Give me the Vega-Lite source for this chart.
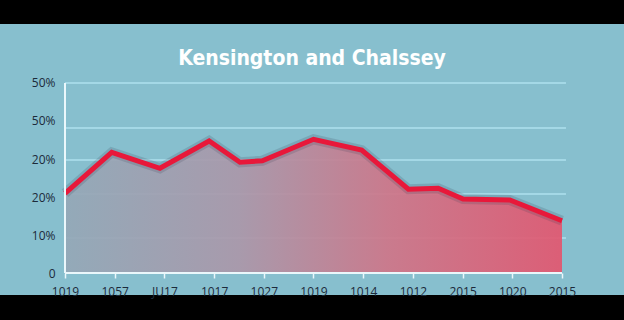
{
  "$schema": "https://vega.github.io/schema/vega-lite/v6.json",
  "width": 624,
  "height": 271,
  "autosize": {"type": "none"},
  "padding": {"top": 24, "bottom": 25, "left": 0, "right": 0},
  "background": "#000000",
  "config": {
    "view": {"fill": "#87bfce", "stroke": null},
    "axis": {"labelFont": "Open Sans", "labelFontSize": 12, "labelColor": "#1c2a3a", "title": null},
    "axisX": {
      "orient": "bottom", "offset": -22,
      "labelExpr": "['1019','1057','JU17','1017','1027','1019','1014','1012','2015','1020','2015'][datum.value]",
      "domain": false, "grid": false, "ticks": true, "tickColor": "#eaf7fb", "tickSize": 5, "tickWidth": 1.5,
      "labelPadding": 8
    },
    "axisY": {
      "orient": "left", "offset": -65,
      "labelExpr": "datum.value == 0 ? '0' : datum.value == 10 ? '10%' : datum.value <= 30 ? '20%' : '50%'",
      "domain": false, "grid": false, "ticks": false, "labelPadding": 10
    }
  },
  "title": {
    "text": "Kensington and Chalssey",
    "font": "DejaVu Sans Condensed",
    "fontSize": 21,
    "fontWeight": "bold",
    "color": "#ffffff",
    "anchor": "middle",
    "baseline": "alphabetic",
    "offset": -62
  },
  "datasets": {
    "series": [
      {"t": 0, "v": 20.97},
      {"t": 0.94, "v": 31.76},
      {"t": 1.91, "v": 27.55},
      {"t": 2.9, "v": 34.74},
      {"t": 3.52, "v": 29.13},
      {"t": 3.97, "v": 29.55},
      {"t": 5.0, "v": 35.18},
      {"t": 5.97, "v": 32.37},
      {"t": 6.91, "v": 22.03},
      {"t": 7.51, "v": 22.29},
      {"t": 8.01, "v": 19.47},
      {"t": 8.95, "v": 19.21},
      {"t": 10, "v": 13.76}
    ],
    "grid": [
      {"g": 50},
      {"g": 38.16},
      {"g": 29.74},
      {"g": 20.79},
      {"g": 9.21}
    ]
  },
  "layer": [
    {
      "data": {"name": "grid"},
      "mark": {"type": "rule", "color": "#aee0ee", "strokeWidth": 1.5},
      "encoding": {
        "y": {"field": "g", "type": "quantitative", "scale": {"domain": [-5.789, 65.526], "nice": false, "zero": false}, "axis": {"values": [0, 10, 20, 30, 40, 50]}},
        "x": {"datum": 0, "type": "quantitative", "scale": {"domain": [-1.3078, 11.2475], "nice": false, "zero": false}, "axis": {"values": [0, 1, 2, 3, 4, 5, 6, 7, 8, 9, 10]}},
        "x2": {"datum": 10.08}
      }
    },
    {
      "data": {"name": "series"},
      "mark": {
        "type": "area",
        "opacity": 0.92,
        "fill": {
          "gradient": "linear",
          "x1": 0, "x2": 1, "y1": 0, "y2": 0,
          "stops": [
            {"offset": 0, "color": "#94a8b7"},
            {"offset": 0.35, "color": "#ab97a9"},
            {"offset": 0.65, "color": "#cf7588"},
            {"offset": 1, "color": "#e3566f"}
          ]
        }
      },
      "encoding": {
        "x": {"field": "t", "type": "quantitative", "scale": {"domain": [-1.3078, 11.2475], "nice": false, "zero": false}, "axis": {"values": [0, 1, 2, 3, 4, 5, 6, 7, 8, 9, 10]}},
        "y": {"field": "v", "type": "quantitative", "scale": {"domain": [-5.789, 65.526], "nice": false, "zero": false}, "axis": {"values": [0, 10, 20, 30, 40, 50]}},
        "y2": {"datum": 0}
      }
    },
    {
      "data": {"name": "series"},
      "mark": {"type": "line", "color": "#3a3f55", "opacity": 0.18, "strokeWidth": 10},
      "encoding": {
        "x": {"field": "t", "type": "quantitative", "scale": {"domain": [-1.3078, 11.2475], "nice": false, "zero": false}, "axis": {"values": [0, 1, 2, 3, 4, 5, 6, 7, 8, 9, 10]}},
        "y": {"field": "v", "type": "quantitative", "scale": {"domain": [-5.789, 65.526], "nice": false, "zero": false}, "axis": {"values": [0, 10, 20, 30, 40, 50]}}
      }
    },
    {
      "data": {"name": "series"},
      "mark": {"type": "line", "color": "#e8183a", "strokeWidth": 5},
      "encoding": {
        "x": {"field": "t", "type": "quantitative", "scale": {"domain": [-1.3078, 11.2475], "nice": false, "zero": false}, "axis": {"values": [0, 1, 2, 3, 4, 5, 6, 7, 8, 9, 10]}},
        "y": {"field": "v", "type": "quantitative", "scale": {"domain": [-5.789, 65.526], "nice": false, "zero": false}, "axis": {"values": [0, 10, 20, 30, 40, 50]}}
      }
    },
    {
      "data": {"name": "series"},
      "mark": {"type": "rule", "color": "#eaf7fb", "strokeWidth": 2},
      "encoding": {
        "x": {"datum": 0, "type": "quantitative", "scale": {"domain": [-1.3078, 11.2475], "nice": false, "zero": false}, "axis": {"values": [0, 1, 2, 3, 4, 5, 6, 7, 8, 9, 10]}},
        "y": {"datum": 0, "type": "quantitative", "scale": {"domain": [-5.789, 65.526], "nice": false, "zero": false}, "axis": {"values": [0, 10, 20, 30, 40, 50]}},
        "y2": {"datum": 50}
      }
    },
    {
      "data": {"name": "series"},
      "mark": {"type": "rule", "color": "#eaf7fb", "strokeWidth": 2},
      "encoding": {
        "x": {"datum": 0, "type": "quantitative", "scale": {"domain": [-1.3078, 11.2475], "nice": false, "zero": false}, "axis": {"values": [0, 1, 2, 3, 4, 5, 6, 7, 8, 9, 10]}},
        "x2": {"datum": 10},
        "y": {"datum": 0, "type": "quantitative", "scale": {"domain": [-5.789, 65.526], "nice": false, "zero": false}, "axis": {"values": [0, 10, 20, 30, 40, 50]}}
      }
    }
  ]
}
